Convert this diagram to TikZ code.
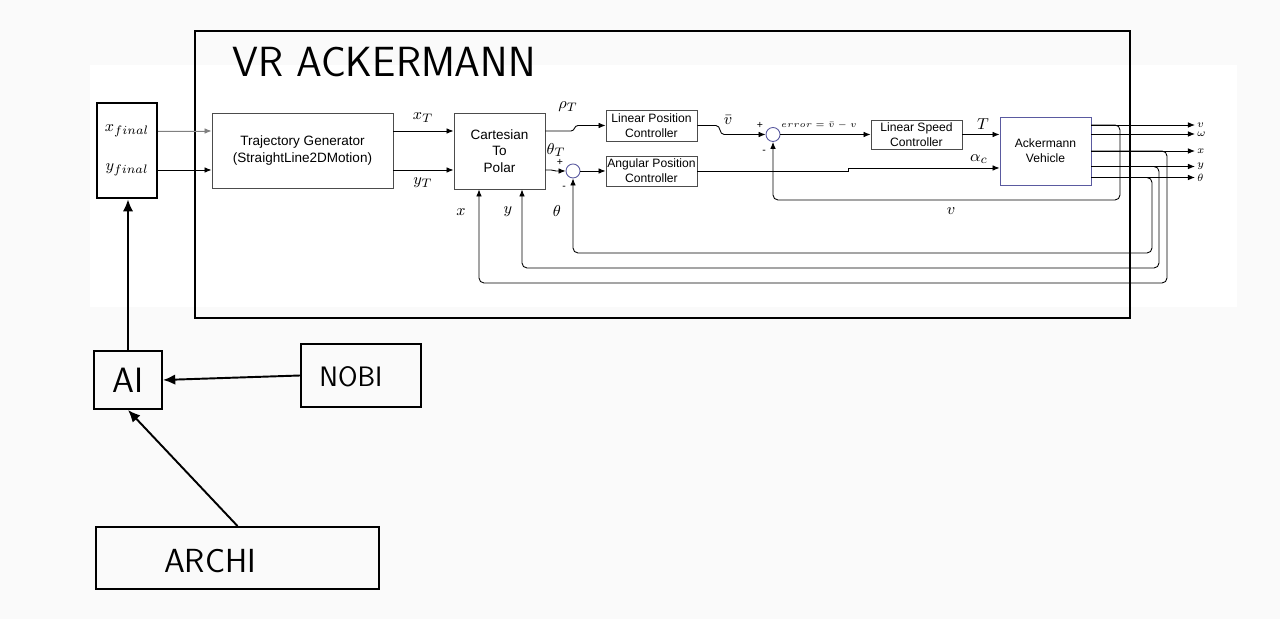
\documentclass[tikz,border=0pt]{standalone}
\usepackage{fontspec}
\usepackage{graphicx}
\newfontfamily\boxfont{Liberation Sans}
\usetikzlibrary{arrows.meta}
\definecolor{paper}{HTML}{FAFAFA}
\definecolor{vehblue}{HTML}{5A5AA0}

\begin{document}
\begin{tikzpicture}[x=0.2mm, y=-0.2mm,
  block/.style={draw=black!70, line width=0.5pt, align=center, inner sep=0pt,
    font=\boxfont\fontsize{7.7}{9.5}\selectfont},
  smallblock/.style={block, font=\boxfont\fontsize{6.9}{8.5}\selectfont},
  sum/.style={circle, draw=vehblue, line width=0.5pt, minimum size=2.8mm, inner sep=0pt},
  sig/.style={-{Latex[length=4pt,width=3.2pt]}, line width=0.5pt},
  fb/.style={sig, rounded corners=1mm},
  lbl/.style={font=\fontsize{9.5}{11}\selectfont, inner sep=0pt},
  outlbl/.style={font=\fontsize{6}{7}\selectfont, inner sep=1pt},
  sign/.style={font=\boxfont\fontsize{6}{7}\selectfont, inner sep=0pt},
  hand/.style={draw, line width=1.1pt, inner sep=0pt},
  handtext/.style={font=\sffamily, inner sep=0pt},
  handarrow/.style={-{Latex[length=7pt,width=6pt]}, line width=1.1pt}
]

  \useasboundingbox (0,0) rectangle (1280,619);
  \fill [paper] (0,0) rectangle (1280,619);
  \fill [white] (90,65) rectangle (1237,307);

  % frame and title
  \node [draw, line width=1.6pt, minimum width=187mm, minimum height=57.4mm] (frame) at (662.5,174.5) {};
  \node [handtext] (title) at (384,62) {\scalebox{0.98}[1]{\fontsize{24}{24}\selectfont VR ACKERMANN}};

  % blocks
  \node [hand, line width=1.3pt, minimum width=12mm, minimum height=19mm] (fin) at (127,150.5) {};
  \node [lbl] (xfin) at (127,131) {$x_{final}$};
  \node [lbl] (yfin) at (127,170) {$y_{final}$};

  \node [block, minimum width=36.2mm, minimum height=15mm] (tg) at (302.5,150.5) {Trajectory Generator\\(StraightLine2DMotion)};
  \node [block, minimum width=18.2mm, minimum height=15.2mm] (c2p) at (499.5,151) {Cartesian\\To\\Polar};
  \node [smallblock, minimum width=18.2mm, minimum height=6.2mm] (lpc) at (651.5,125.5) {Linear Position\\Controller};
  \node [smallblock, minimum width=18.2mm, minimum height=6mm] (apc) at (651.5,171) {Angular Position\\Controller};
  \node [smallblock, minimum width=18.2mm, minimum height=5.8mm] (lsc) at (916.5,134.5) {Linear Speed\\Controller};
  \node [smallblock, draw=vehblue, minimum width=18.2mm, minimum height=13.6mm] (veh) at (1045.5,151) {Ackermann\\Vehicle};

  \node [sum] (sum1) at (773,134.5) {};
  \node [sum] (sum2) at (573,171) {};
  \node [sign] (p1) at (760,125) {+};
  \node [sign] (m1) at (764,152) {-};
  \node [sign] (p2) at (560,162) {+};
  \node [sign] (m2) at (564,188) {-};

  % forward path
  \draw [sig, draw=gray, fill=gray] (xfin -| fin.east) -- (xfin -| tg.west);
  \draw [sig] (yfin -| fin.east) -- (yfin -| tg.west);
  \draw [sig] (tg.east |- xfin) -- (c2p.west |- xfin);
  \draw [sig] (tg.east |- yfin) -- (c2p.west |- yfin);
  \draw [sig] (c2p.east |- xfin) -- (571,131) .. controls (575,131) and (574,125.5) .. (578,125.5) -- (lpc.west);
  \draw [sig] (c2p.east |- yfin) -- (551,170) .. controls (554,170) and (553,171) .. (556,171) -- (sum2.west);
  \draw [sig] (sum2.east) -- (apc.west);
  \draw [sig] (lpc.east) -- (716,125.5) .. controls (721,125.5) and (719,134.5) .. (724,134.5) -- (sum1.west);
  \draw [sig] (sum1.east) -- (lsc.west);
  \draw [sig] (lsc.east) -- (lsc.east -| veh.west);
  \coordinate (ac) at (848,168);
  \draw [sig] (apc.east) -| (ac) -- (ac -| veh.west);

  % outputs
  \coordinate (outx) at (1195,0);
  \coordinate (vo) at (1091,125);
  \coordinate (wo) at (1091,134);
  \coordinate (xo) at (1091,151);
  \coordinate (yo) at (1091,166.5);
  \coordinate (tho) at (1091,177.5);
  \draw [sig] (vo) -- (vo -| outx) node [right, outlbl] (ov) {$v$};
  \draw [sig] (wo) -- (wo -| outx) node [right, outlbl] (ow) {$\omega$};
  \draw [sig] (xo) -- (xo -| outx) node [right, outlbl] (ox) {$x$};
  \draw [sig] (yo) -- (yo -| outx) node [right, outlbl] (oy) {$y$};
  \draw [sig] (tho) -- (tho -| outx) node [right, outlbl] (oth) {$\theta$};

  % feedback
  \draw [fb] (vo) -| (1120,200) -| (sum1.south);
  \draw [fb] (tho) -| (1152,253) -| (sum2.south);
  \draw [fb] (yo) -| (1159,268) -| ([xshift=4.5mm]c2p.south);
  \draw [fb] (xo) -| (1167,283) -| ([xshift=-4.1mm]c2p.south);

  % labels
  \node [lbl] (lxT) at (423,118) {$x_T$};
  \node [lbl] (lyT) at (423,183) {$y_T$};
  \node [lbl] (lrho) at (568,107) {$\rho_T$};
  \node [lbl] (lthT) at (556,150) {$\theta_T$};
  \node [lbl] (lvbar) at (728,120) {$\bar{v}$};
  \node [outlbl, font=\fontsize{5}{6}\selectfont, inner sep=0pt] (lerr) at (819,125) {$error = \bar{v} - v$};
  \node [lbl] (lT) at (983,124) {$T$};
  \node [lbl] (lal) at (979,159) {$\alpha_c$};
  \node [lbl] (lv) at (951,211) {$v$};
  \node [lbl] (lx) at (461,212) {$x$};
  \node [lbl] (ly) at (508,212) {$y$};
  \node [lbl] (lth) at (557,211) {$\theta$};

  % lower part
  \node [hand, minimum width=13.6mm, minimum height=11.6mm, handtext, font=\sffamily\fontsize{20}{20}\selectfont] (ai) at (128,380) {AI};
  \node [hand, minimum width=24mm, minimum height=12.6mm] (nobi) at (361,375.5) {};
  \node [handtext, font=\sffamily\fontsize{16}{16}\selectfont] (tnobi) at (351,377) {NOBI};
  \node [hand, minimum width=56.6mm, minimum height=12.4mm] (archi) at (237.5,558) {};
  \node [handtext, font=\sffamily\fontsize{19}{19}\selectfont] (tarchi) at (210,561) {ARCHI};

  \draw [handarrow, line width=1.5pt] (ai.north) -- (ai.north |- fin.south);
  \draw [handarrow] (nobi.west) -- (ai.east);
  \draw [handarrow] (archi.north) -- (ai.south);

\end{tikzpicture}
\end{document}
